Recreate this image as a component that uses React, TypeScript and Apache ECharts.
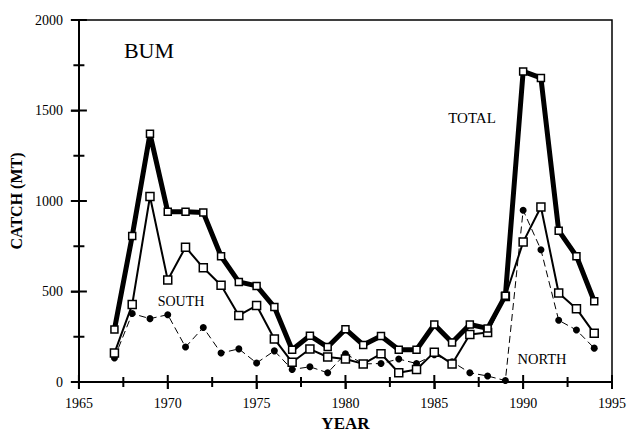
import React, { useEffect, useRef } from "react";
import * as echarts from "echarts";

const years = [1967, 1968, 1969, 1970, 1971, 1972, 1973, 1974, 1975, 1976, 1977, 1978, 1979, 1980, 1981, 1982, 1983, 1984, 1985, 1986, 1987, 1988, 1989, 1990, 1991, 1992, 1993, 1994];
const total = [290, 807, 1371, 940, 940, 936, 695, 553, 531, 414, 178, 256, 193, 292, 205, 254, 178, 178, 318, 218, 318, 296, 477, 1716, 1680, 836, 695, 446];
const south = [160, 428, 1025, 563, 745, 631, 535, 368, 423, 238, 109, 182, 138, 127, 100, 156, 51, 69, 165, 100, 263, 274, 473, 773, 967, 492, 405, 269];
const north = [133, 378, 350, 372, 193, 301, 160, 183, 105, 172, 69, 84, 51, 156, 100, 102, 127, 102, 151, 112, 51, 33, 8, 949, 731, 341, 287, 187];

const xTickValues = [1965, 1967.5, 1970, 1972.5, 1975, 1977.5, 1980, 1982.5, 1985, 1987.5, 1990, 1992.5, 1995];
const yTickValues = [0, 250, 500, 750, 1000, 1250, 1500, 1750, 2000];

const FONT = "'Liberation Serif', 'Times New Roman', serif";

export default function App() {
  const ref = useRef<HTMLDivElement>(null);
  useEffect(() => {
    if (!ref.current) return;
    const chart = echarts.init(ref.current, undefined, { renderer: "svg" });
    const pair = (arr: number[]) => years.map((y, i) => [y, arr[i]]);
    chart.setOption({
      animation: false,
      grid: {
        left: 71,
        right: 14,
        top: 20,
        bottom: 49,
        show: true,
        borderColor: "#000",
        borderWidth: 1.5,
      },
      xAxis: {
        type: "value",
        min: 1965,
        max: 1995,
        interval: 5,
        position: "bottom",
        splitLine: { show: false },
        name: "YEAR",
        nameLocation: "middle",
        nameGap: 33,
        nameTextStyle: { fontFamily: FONT, fontSize: 17, fontWeight: "bold", color: "#000" },
        axisLine: { show: true, onZero: false, lineStyle: { color: "#000", width: 2 } },
        axisTick: { show: true, length: 7, lineStyle: { color: "black", width: 1.5 } },
        axisLabel: {
          margin: 14,
          fontFamily: FONT,
          fontSize: 14,
          color: "#000",
          formatter: (v: number) => String(v),
        },
      },
      yAxis: {
        type: "value",
        min: 0,
        max: 2000,
        interval: 500,
        position: "left",
        splitLine: { show: false },
        name: "CATCH (MT)",
        nameLocation: "middle",
        nameGap: 47,
        nameRotate: 90,
        nameTextStyle: { fontFamily: FONT, fontSize: 16, fontWeight: "bold", color: "#000" },
        axisLine: { show: true, onZero: false, lineStyle: { color: "#000", width: 2 } },
        axisTick: { show: true, length: 8, lineStyle: { color: "black", width: 1.5 } },
        axisLabel: {
          margin: 16,
          fontFamily: FONT,
          fontSize: 14,
          color: "#000",
          formatter: (v: number) => String(v),
        },
      },
      series: [
        {
          name: "xticks",
          type: "custom",
          coordinateSystem: "cartesian2d",
          silent: true,
          clip: false,
          z: 6,
          data: xTickValues.map((v) => [v, 0]),
          renderItem: (_params: any, api: any) => {
            const v = api.value(0);
            const p = api.coord([v, 0]);
            const h = v % 5 === 0 ? 7 : 5;
            return {
              type: "rect",
              shape: { x: p[0] - 1, y: p[1] - h, width: 2, height: h * 2 },
              style: { fill: "#000" },
            };
          },
        },
        {
          name: "yticks",
          type: "custom",
          coordinateSystem: "cartesian2d",
          silent: true,
          clip: false,
          z: 6,
          data: yTickValues.map((v) => [1965, v]),
          renderItem: (_params: any, api: any) => {
            const v = api.value(1);
            const p = api.coord([1965, v]);
            const h = v % 500 === 0 ? 8 : 5.5;
            return {
              type: "rect",
              shape: { x: p[0] - h, y: p[1] - 1, width: h * 2, height: 2 },
              style: { fill: "#000" },
            };
          },
        },
        {
          name: "NORTH",
          type: "line",
          data: pair(north),
          symbol: "circle",
          symbolSize: 7,
          itemStyle: { color: "#000" },
          lineStyle: { color: "#000", width: 1, type: [7, 4] },
          z: 2,
        },
        {
          name: "SOUTH",
          type: "line",
          data: pair(south),
          symbol: "rect",
          symbolSize: 8,
          itemStyle: { color: "#fff", borderColor: "#000", borderWidth: 1.5 },
          lineStyle: { color: "#000", width: 2 },
          z: 3,
        },
        {
          name: "TOTAL",
          type: "line",
          data: pair(total),
          symbol: "rect",
          symbolSize: 7,
          itemStyle: { color: "#fff", borderColor: "#000", borderWidth: 1.5 },
          lineStyle: { color: "#000", width: 5, cap: "round", join: "round" },
          z: 4,
        },
      ],
      graphic: [
        { type: "text", x: 149, y: 50, style: { text: "BUM", font: `22px ${FONT}`, fill: "#000", textAlign: "center", textVerticalAlign: "middle" } },
        { type: "text", x: 472, y: 118, style: { text: "TOTAL", font: `15px ${FONT}`, fill: "#000", textAlign: "center", textVerticalAlign: "middle" } },
        { type: "text", x: 181, y: 301, style: { text: "SOUTH", font: `14px ${FONT}`, fill: "#000", textAlign: "center", textVerticalAlign: "middle" } },
        { type: "text", x: 542, y: 359, style: { text: "NORTH", font: `14.5px ${FONT}`, fill: "#000", textAlign: "center", textVerticalAlign: "middle" } },
      ],
    });
    return () => chart.dispose();
  }, []);
  return (
    <div
      ref={ref}
      style={{ position: "fixed", left: 0, top: 0, width: 629, height: 437, background: "#fff" }}
    />
  );
}
